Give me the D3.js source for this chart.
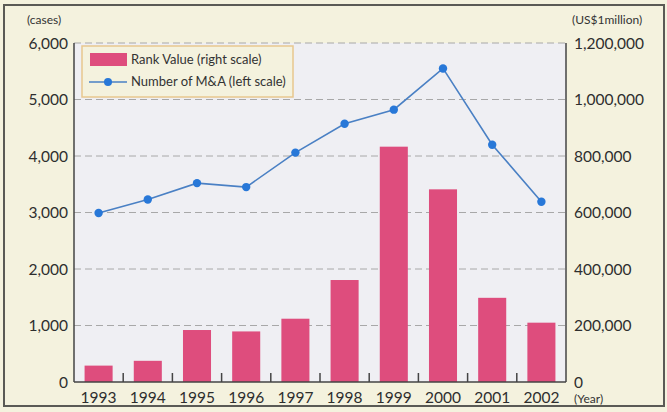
<!DOCTYPE html>
<html><head><meta charset="utf-8">
<script src="https://cdn.jsdelivr.net/npm/d3@7"></script>
<style>body{margin:0;background:#f4f2de;}svg{display:block;font-family:Lato,"Open Sans",sans-serif;}</style>
</head><body>
<svg id="c" width="667" height="412"></svg>
<script>
const years = ["1993","1994","1995","1996","1997","1998","1999","2000","2001","2002"];
const rankValue = [58000, 75000, 184000, 179000, 224000, 361000, 833000, 682000, 298000, 210000];
const numMA = [2990, 3230, 3520, 3450, 4060, 4570, 4820, 5550, 4200, 3190];
const leftTicks = [0, 1000, 2000, 3000, 4000, 5000, 6000];
const rightTicks = [0, 200000, 400000, 600000, 800000, 1000000, 1200000];

const svg = d3.select("#c");
const L = 74, R = 566, T = 43, B = 382;

svg.append("rect").attr("x",0).attr("y",0).attr("width",667).attr("height",412).attr("fill","#f4f2de");
svg.append("rect").attr("x",4).attr("y",5).attr("width",660).attr("height",401)
  .attr("fill","none").attr("stroke","#5a5a55").attr("stroke-width",2);

const x = d3.scaleBand().domain(years).range([L, R]).paddingInner(0.43).paddingOuter(0.215);
const xb = d3.scaleBand().domain(years).range([L, R]);
const yL = d3.scaleLinear().domain([0, 6000]).range([B, T]);
const yR = d3.scaleLinear().domain([0, 1200000]).range([B, T]);

svg.append("rect").attr("x",L).attr("y",T).attr("width",R-L).attr("height",B-T).attr("fill","#efeff3");

// gridlines
svg.append("g").selectAll("line").data(leftTicks.filter(d=>d>0)).join("line")
  .attr("x1",L).attr("x2",R).attr("y1",d=>yL(d)).attr("y2",d=>yL(d))
  .attr("stroke","#a8a8a8").attr("stroke-width",1).attr("stroke-dasharray","7,4");

// bars
svg.append("g").selectAll("rect").data(years).join("rect")
  .attr("x",d=>x(d)).attr("width",x.bandwidth())
  .attr("y",(d,i)=>yR(rankValue[i])).attr("height",(d,i)=>B-yR(rankValue[i]))
  .attr("fill","#de4d7d");

// axes lines
svg.append("line").attr("x1",L).attr("x2",L).attr("y1",T).attr("y2",B).attr("stroke","#444").attr("stroke-width",1.5);
svg.append("line").attr("x1",R).attr("x2",R).attr("y1",T).attr("y2",B).attr("stroke","#444").attr("stroke-width",1.5);
svg.append("line").attr("x1",L).attr("x2",R).attr("y1",B).attr("y2",B).attr("stroke","#444").attr("stroke-width",1.5);

// category separator ticks
svg.append("g").selectAll("line").data(years.slice(1)).join("line")
  .attr("x1",d=>xb(d)).attr("x2",d=>xb(d)).attr("y1",B).attr("y2",B-9)
  .attr("stroke","#444").attr("stroke-width",1.5);

// line series
const line = d3.line().x((d,i)=>xb(years[i])+xb.bandwidth()/2).y(d=>yL(d));
svg.append("path").datum(numMA).attr("d",line).attr("fill","none").attr("stroke","#4a80c4").attr("stroke-width",1.6);
svg.append("g").selectAll("circle").data(numMA).join("circle")
  .attr("cx",(d,i)=>xb(years[i])+xb.bandwidth()/2).attr("cy",d=>yL(d)).attr("r",4.2).attr("fill","#2878d8");

// left tick labels
svg.append("g").selectAll("text").data(leftTicks).join("text")
  .attr("x",68).attr("y",d=>yL(d)+5.5).attr("text-anchor","end")
  .attr("font-size",15.5).attr("fill","#2e2e2e").text(d=>d3.format(",")(d));
// right tick labels
svg.append("g").selectAll("text").data(rightTicks).join("text")
  .attr("x",574).attr("y",d=>yR(d)+5.5).attr("text-anchor","start")
  .attr("font-size",15.5).attr("fill","#2e2e2e").text(d=>d3.format(",")(d));
// year labels
svg.append("g").selectAll("text").data(years).join("text")
  .attr("x",d=>xb(d)+xb.bandwidth()/2).attr("y",403).attr("text-anchor","middle")
  .attr("font-size",15.5).attr("fill","#2e2e2e").text(d=>d);

svg.append("text").attr("x",27).attr("y",24).attr("font-size",12).attr("fill","#333").text("(cases)");
svg.append("text").attr("x",572).attr("y",24).attr("font-size",12).attr("fill","#333").text("(US$1million)");
svg.append("text").attr("x",574).attr("y",403).attr("font-size",12).attr("fill","#333").text("(Year)");

// legend
const lg = svg.append("g");
lg.append("rect").attr("x",82).attr("y",46).attr("width",211).attr("height",51)
  .attr("fill","#f4f2de").attr("stroke","#e8c78e").attr("stroke-width",1.5);
lg.append("rect").attr("x",90).attr("y",53).attr("width",37).attr("height",13).attr("fill","#de4d7d");
lg.append("line").attr("x1",89).attr("x2",127).attr("y1",82).attr("y2",82).attr("stroke","#4a80c4").attr("stroke-width",1.6);
lg.append("circle").attr("cx",108).attr("cy",82).attr("r",4).attr("fill","#2878d8");
lg.append("text").attr("x",131).attr("y",64).attr("font-size",13).attr("fill","#333").text("Rank Value (right scale)");
lg.append("text").attr("x",131).attr("y",86).attr("font-size",13).attr("fill","#333").text("Number of M&A (left scale)");
</script>
</body></html>
